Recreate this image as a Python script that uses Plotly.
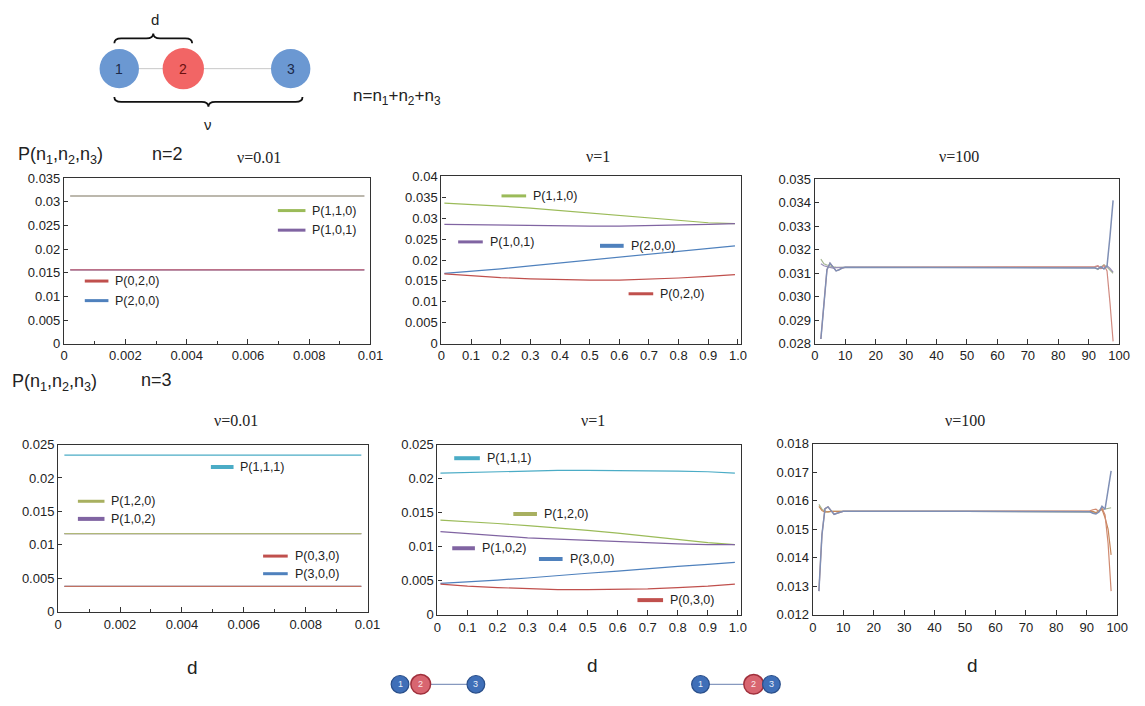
import plotly.graph_objects as go

W, H = 1145, 706

# ---------------- data ----------------
# v = 0.01 (constant lines)
d_small = [0.0002, 0.0098]
n2_v001_p110 = [0.03125, 0.03125]
n2_v001_p101 = [0.03125, 0.03125]
n2_v001_p020 = [0.0156, 0.0156]
n2_v001_p200 = [0.0156, 0.0156]

n3_v001_p111 = [0.0234, 0.0234]
n3_v001_p120 = [0.0117, 0.0117]
n3_v001_p102 = [0.0117, 0.0117]
n3_v001_p030 = [0.0038, 0.0038]
n3_v001_p300 = [0.0038, 0.0038]

# v = 1
d_mid = [0.01, 0.1, 0.2, 0.3, 0.4, 0.5, 0.6, 0.7, 0.8, 0.9, 0.99]
n2_v1_p110 = [0.0336, 0.0333, 0.0329, 0.0324, 0.0318, 0.0312, 0.0306, 0.0300, 0.0294, 0.0289, 0.0287]
n2_v1_p101 = [0.0285, 0.0284, 0.0283, 0.0282, 0.0281, 0.0281, 0.0281, 0.0282, 0.0283, 0.0285, 0.0287]
n2_v1_p200 = [0.0168, 0.0173, 0.0179, 0.0186, 0.0193, 0.0200, 0.0207, 0.0214, 0.0221, 0.0228, 0.0234]
n2_v1_p020 = [0.0167, 0.0162, 0.0158, 0.0155, 0.0153, 0.0152, 0.0152, 0.0154, 0.0157, 0.0161, 0.0165]

n3_v1_p111 = [0.0208, 0.0209, 0.0210, 0.0211, 0.0212, 0.0212, 0.0212, 0.0212, 0.0211, 0.0210, 0.0208]
n3_v1_p120 = [0.0139, 0.0137, 0.0134, 0.0131, 0.0128, 0.0124, 0.0120, 0.0115, 0.0110, 0.0106, 0.0103]
n3_v1_p102 = [0.0122, 0.0119, 0.0116, 0.0113, 0.0111, 0.0109, 0.0107, 0.0105, 0.0104, 0.0103, 0.0103]
n3_v1_p300 = [0.0046, 0.0048, 0.0051, 0.0054, 0.0058, 0.0061, 0.0064, 0.0068, 0.0071, 0.0074, 0.0077]
n3_v1_p030 = [0.0045, 0.0042, 0.0040, 0.0038, 0.0037, 0.0037, 0.0037, 0.0038, 0.0040, 0.0042, 0.0045]

# v = 100
d_big = [2, 3, 4, 5, 6, 7, 8, 9, 10, 50, 90, 91, 92, 93, 94, 95, 96, 97, 98]
n2_v100_p200 = [0.0282, 0.0298, 0.03115, 0.03143, 0.03125, 0.03110, 0.03115, 0.03122, 0.03125, 0.03125,
                0.03125, 0.03124, 0.03122, 0.03118, 0.03128, 0.03118, 0.03130, 0.03260, 0.03410]
n2_v100_p020 = [0.0282, 0.0298, 0.03115, 0.03143, 0.03125, 0.03110, 0.03115, 0.03122, 0.03125, 0.03125,
                0.03125, 0.03126, 0.03128, 0.03132, 0.03120, 0.03134, 0.03110, 0.02970, 0.02810]
n2_v100_p110 = [0.0316, 0.0314, 0.03135, 0.0313, 0.03127, 0.03126, 0.03125, 0.03125, 0.03125, 0.03125,
                0.03125, 0.03125, 0.03124, 0.03116, 0.03126, 0.03136, 0.03126, 0.03114, 0.03100]
n2_v100_p101 = [0.0314, 0.03132, 0.03128, 0.03124, 0.03122, 0.03124, 0.03125, 0.03125, 0.03125, 0.03125,
                0.03125, 0.03125, 0.03126, 0.03130, 0.03120, 0.03122, 0.03132, 0.03120, 0.03105]

n3_v100_p300 = [0.01283, 0.0148, 0.01572, 0.01578, 0.01565, 0.01552, 0.01556, 0.0156, 0.015625, 0.015625,
                0.015625, 0.01561, 0.01556, 0.01553, 0.0156, 0.0158, 0.0157, 0.0163, 0.01704]
n3_v100_p030 = [0.01283, 0.0148, 0.01572, 0.01578, 0.01565, 0.01552, 0.01556, 0.0156, 0.015625, 0.015625,
                0.015625, 0.01564, 0.01568, 0.0157, 0.01562, 0.01574, 0.0155, 0.0145, 0.01283]
n3_v100_p120 = [0.01587, 0.0157, 0.01563, 0.0156, 0.01562, 0.015625, 0.015625, 0.015625, 0.015625, 0.015625,
                0.015625, 0.01562, 0.0156, 0.01556, 0.01566, 0.01568, 0.0157, 0.01572, 0.01575]
n3_v100_p102 = [0.0158, 0.01565, 0.0156, 0.01562, 0.015625, 0.015625, 0.015625, 0.015625, 0.015625, 0.015625,
                0.015625, 0.015625, 0.01562, 0.01558, 0.01562, 0.0157, 0.0154, 0.0150, 0.0141]

# tick labels
ticks_small = [0, 0.002, 0.004, 0.006, 0.008, 0.01]
ticks_small_text = ["0", "0.002", "0.004", "0.006", "0.008", "0.01"]
ticks_mid = [0, 0.1, 0.2, 0.3, 0.4, 0.5, 0.6, 0.7, 0.8, 0.9, 1.0]
ticks_mid_text = ["0", "0.1", "0.2", "0.3", "0.4", "0.5", "0.6", "0.7", "0.8", "0.9", "1.0"]
ticks_big = [0, 10, 20, 30, 40, 50, 60, 70, 80, 90, 100]

# ---------------- styles ----------------
GREEN = "#9bbb59"
PURPLE = "#8064a2"
RED = "#c0504d"
BLUE = "#4f81bd"
CYAN = "#4bacc6"
SANS = "Liberation Sans, Arial, sans-serif"
SERIF = "Liberation Serif, Times New Roman, serif"


def px(x):
    return x / W


def py(y):
    return 1 - y / H


fig = go.Figure()


def add_line(x, y, color, ax, width=1.2, opacity=1.0):
    fig.add_trace(go.Scatter(x=x, y=y, mode="lines", line=dict(color=color, width=width),
                             opacity=opacity, xaxis="x" + ax, yaxis="y" + ax,
                             showlegend=False, hoverinfo="skip"))


# top-left
add_line(d_small, n2_v001_p101, PURPLE, "1")
add_line(d_small, n2_v001_p110, "#b9bf8a", "1")
add_line(d_small, n2_v001_p200, BLUE, "1")
add_line(d_small, n2_v001_p020, "#d06070", "1")
# top-middle
add_line(d_mid, n2_v1_p110, GREEN, "2")
add_line(d_mid, n2_v1_p101, PURPLE, "2")
add_line(d_mid, n2_v1_p200, BLUE, "2")
add_line(d_mid, n2_v1_p020, RED, "2")
# top-right
add_line(d_big, n2_v100_p110, "#a8b894", "3")
add_line(d_big, n2_v100_p101, "#9a90b8", "3")
add_line(d_big, n2_v100_p020, "#d08a80", "3")
add_line(d_big, n2_v100_p200, "#7f8fb5", "3", width=1.5)
# bottom-left
add_line(d_small, n3_v001_p111, CYAN, "4")
add_line(d_small, n3_v001_p102, PURPLE, "4")
add_line(d_small, n3_v001_p120, "#b0b878", "4")
add_line(d_small, n3_v001_p300, BLUE, "4")
add_line(d_small, n3_v001_p030, "#c07060", "4")
# bottom-middle
add_line(d_mid, n3_v1_p111, CYAN, "5")
add_line(d_mid, n3_v1_p120, GREEN, "5")
add_line(d_mid, n3_v1_p102, PURPLE, "5")
add_line(d_mid, n3_v1_p300, BLUE, "5")
add_line(d_mid, n3_v1_p030, RED, "5")
# bottom-right
add_line(d_big, n3_v100_p120, "#a8b894", "6")
add_line(d_big, n3_v100_p102, "#c8875a", "6")
add_line(d_big, n3_v100_p030, "#d08a70", "6")
add_line(d_big, n3_v100_p300, "#7f8fb5", "6", width=1.5)

# ---------------- axes ----------------
panels = {
    "1": dict(x=(61, 372), y=(175, 344), xr=[0, 0.01], yr=[0, 0.035], ydt=0.005, xt=ticks_small, xtt=ticks_small_text, minor=0.001, yfmt=None),
    "2": dict(x=(444, 748), y=(173, 344), xr=[0, 1.01], yr=[0, 0.04], ydt=0.005, xt=ticks_mid, xtt=ticks_mid_text, minor=None, yfmt=None),
    "3": dict(x=(823, 1132), y=(176, 344), xr=[0, 100], yr=[0.028, 0.035], ydt=0.001, xt=ticks_big, xtt=[str(t) for t in ticks_big], minor=None, yfmt=".3f"),
    "4": dict(x=(55, 369), y=(447, 618), xr=[0, 0.01], yr=[0, 0.025], ydt=0.005, xt=ticks_small, xtt=ticks_small_text, minor=0.001, yfmt=None),
    "5": dict(x=(440, 748), y=(447, 621), xr=[0, 1.01], yr=[0, 0.025], ydt=0.005, xt=ticks_mid, xtt=ticks_mid_text, minor=None, yfmt=None),
    "6": dict(x=(821, 1130), y=(446, 621), xr=[0, 100], yr=[0.012, 0.018], ydt=0.001, xt=ticks_big, xtt=[str(t) for t in ticks_big], minor=None, yfmt=".3f"),
}

layout_axes = {}
for k, p in panels.items():
    xname = "xaxis" if k == "1" else "xaxis" + k
    yname = "yaxis" if k == "1" else "yaxis" + k
    xa = dict(domain=[px(p["x"][0]), px(p["x"][1])], range=p["xr"], anchor="y" + ("" if k == "1" else k),
              tickvals=p["xt"], ticktext=p["xtt"], ticks="inside", ticklen=5, tickcolor="#333",
              showline=True, mirror=True, linecolor="#333", linewidth=1.3, showgrid=False, zeroline=False,
              tickfont=dict(family=SANS, size=13, color="#222"), fixedrange=True)
    if p["minor"]:
        xa["minor"] = dict(dtick=p["minor"], ticks="inside", ticklen=3, tickcolor="#333")
    ya = dict(domain=[py(p["y"][1]), py(p["y"][0])], range=p["yr"], anchor="x" + ("" if k == "1" else k),
              dtick=p["ydt"], tick0=p["yr"][0], ticks="inside", ticklen=4, tickcolor="#333",
              showline=True, mirror=True, linecolor="#333", linewidth=1.3, showgrid=False, zeroline=False,
              tickfont=dict(family=SANS, size=13, color="#222"), fixedrange=True)
    if p["yfmt"]:
        ya["tickformat"] = p["yfmt"]
    layout_axes[xname] = xa
    layout_axes[yname] = ya

# ---------------- annotations & shapes ----------------
annotations = []
shapes = []


def ann(text, x, y, size, family=SANS, xanchor="left", color="#222"):
    annotations.append(dict(text=text, x=px(x), y=py(y), xref="paper", yref="paper",
                            xanchor=xanchor, yanchor="middle", showarrow=False,
                            font=dict(family=family, size=size, color=color)))


def seg(x0, x1, y, color, width=3):
    shapes.append(dict(type="line", xref="paper", yref="paper", x0=px(x0), x1=px(x1),
                       y0=py(y), y1=py(y), line=dict(color=color, width=width)))


def leg(x0, x1, y, color, label, width=3):
    seg(x0, x1, y, color, width)
    ann(label, x1 + 5, y, 12.5)


def circle(cx, cy, r, fill, line_color=None, lw=0):
    shapes.append(dict(type="circle", xref="paper", yref="paper",
                       x0=px(cx - r), x1=px(cx + r), y0=py(cy + r), y1=py(cy - r),
                       fillcolor=fill, line=dict(color=line_color or fill, width=lw)))


def path(points):
    parts = []
    for cmd, coords in points:
        cs = " ".join(f"{px(coords[i]):.5f},{py(coords[i + 1]):.5f}" for i in range(0, len(coords), 2))
        parts.append(cmd + " " + cs)
    return " ".join(parts)


def brace(x0, x1, yend, ymid, ytip):
    xm = (x0 + x1) / 2
    s = 7
    pts = [("M", [x0, yend]), ("Q", [x0, ymid, x0 + s, ymid]), ("L", [xm - s, ymid]),
           ("Q", [xm, ymid, xm, ytip]), ("Q", [xm, ymid, xm + s, ymid]), ("L", [x1 - s, ymid]),
           ("Q", [x1, ymid, x1, yend])]
    shapes.append(dict(type="path", xref="paper", yref="paper", path=path(pts),
                       line=dict(color="#111", width=1.8)))


# legends, top row
leg(278, 306, 208, GREEN, "P(1,1,0)")
leg(278, 306, 228, PURPLE, "P(1,0,1)")
leg(82, 106, 280, RED, "P(0,2,0)")
leg(82, 106, 300, BLUE, "P(2,0,0)")

leg(505, 530, 193, GREEN, "P(1,1,0)")
leg(461, 486, 240, PURPLE, "P(1,0,1)")
leg(605, 629, 244, BLUE, "P(2,0,0)", 4)
leg(634, 659, 293, RED, "P(0,2,0)")

# legends, bottom row
leg(210, 233, 470, CYAN, "P(1,1,1)", 4)
leg(75, 102, 505, "#a8b060", "P(1,2,0)")
leg(75, 102, 523, PURPLE, "P(1,0,2)", 4)
leg(263, 288, 561, RED, "P(0,3,0)")
leg(263, 288, 579, BLUE, "P(3,0,0)")

leg(457, 483, 461, CYAN, "P(1,1,1)", 4)
leg(517, 541, 518, "#a8b060", "P(1,2,0)", 4)
leg(455, 478, 553, PURPLE, "P(1,0,2)", 4)
leg(543, 567, 564, BLUE, "P(3,0,0)", 4)
leg(643, 669, 606, RED, "P(0,3,0)", 4)

# headers
ann("P(n<sub>1</sub>,n<sub>2</sub>,n<sub>3</sub>)", 12, 152, 18)
ann("n=2", 148, 150, 18)
ann("P(n<sub>1</sub>,n<sub>2</sub>,n<sub>3</sub>)", 6, 384, 18)
ann("n=3", 137, 381, 18)

ann("ν=0.01", 259, 154, 16, SERIF, "center")
ann("ν=1", 603, 153, 16, SERIF, "center")
ann("ν=100", 969, 153, 16, SERIF, "center")
ann("ν=0.01", 236, 422, 16, SERIF, "center")
ann("ν=1", 598, 422, 16, SERIF, "center")
ann("ν=100", 975, 422, 16, SERIF, "center")

ann("d", 191, 675, 19, SANS, "center")
ann("d", 597, 673, 19, SANS, "center")
ann("d", 983, 673, 19, SANS, "center")

# top diagram
shapes.append(dict(type="line", xref="paper", yref="paper", x0=px(130), x1=px(275), y0=py(63), y1=py(63),
                   line=dict(color="#c8c8c8", width=1)))
circle(117, 63, 20, "#6b98d2")
circle(182, 63, 21, "#f26565")
circle(291, 63, 20, "#6b98d2")
ann("1", 117, 63, 14, SANS, "center", "#1b2a4a")
ann("2", 182, 63, 14, SANS, "center", "#6a1010")
ann("3", 291, 63, 14, SANS, "center", "#1b2a4a")
brace(112, 191, 37, 32, 27)
brace(112, 303, 92, 97, 102)
ann("d", 153, 13, 15, SANS, "center")
ann("ν", 207, 120, 15, SANS, "center")
ann("n=n<sub>1</sub>+n<sub>2</sub>+n<sub>3</sub>", 352, 92, 17)

# bottom icons
shapes.append(dict(type="line", xref="paper", yref="paper", x0=px(425), x1=px(478), y0=py(692), y1=py(692),
                   line=dict(color="#6a80b0", width=1)))
circle(402, 692, 9, "#3f6fb8", "#2a4f8a", 1.2)
circle(423, 692, 10, "#d86570", "#a0303c", 1.5)
circle(479, 692, 9, "#3f6fb8", "#2a4f8a", 1.2)
ann("1", 402, 692, 9, SANS, "center", "#e8eefa")
ann("2", 423, 692, 9, SANS, "center", "#fbe8ea")
ann("3", 479, 692, 9, SANS, "center", "#e8eefa")

shapes.append(dict(type="line", xref="paper", yref="paper", x0=px(707), x1=px(760), y0=py(692), y1=py(692),
                   line=dict(color="#6a80b0", width=1)))
circle(707, 692, 9, "#3f6fb8", "#2a4f8a", 1.2)
circle(761, 692, 10, "#d86570", "#a0303c", 1.5)
circle(779, 692, 9, "#3f6fb8", "#2a4f8a", 1.2)
ann("1", 707, 692, 9, SANS, "center", "#e8eefa")
ann("2", 761, 692, 9, SANS, "center", "#fbe8ea")
ann("3", 779, 692, 9, SANS, "center", "#e8eefa")

fig.update_layout(width=W, height=H, autosize=False, margin=dict(l=0, r=0, t=0, b=0),
                  paper_bgcolor="white", plot_bgcolor="white", showlegend=False,
                  annotations=annotations, shapes=shapes, **layout_axes)

fig.write_html("out.html", config={"responsive": False, "displayModeBar": False},
               post_script="document.body.style.margin='0';document.body.style.padding='0';document.body.style.overflow='hidden';")
